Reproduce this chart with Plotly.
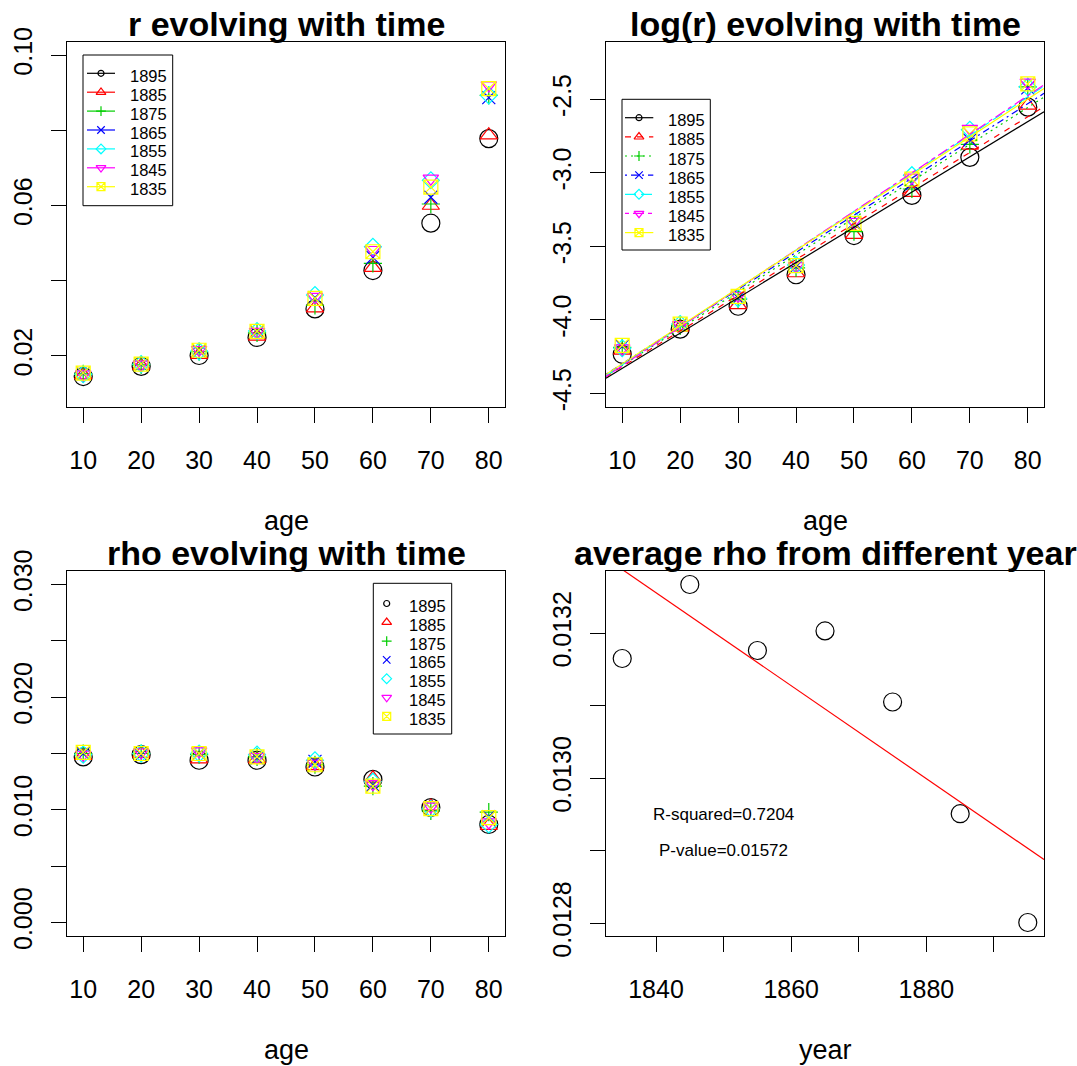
import numpy as np
import plotly.graph_objects as go

# ---------------- data ----------------
ages = [10, 20, 30, 40, 50, 60, 70, 80]
years = [1895, 1885, 1875, 1865, 1855, 1845, 1835]

r_1895 = [0.0145, 0.0172, 0.0201, 0.0249, 0.0325, 0.0427, 0.0553, 0.0778]
r_1885 = [0.0149, 0.0174, 0.0203, 0.0252, 0.0327, 0.0435, 0.0600, 0.0787]
r_1875 = [0.0152, 0.0176, 0.0211, 0.0261, 0.0334, 0.0446, 0.0604, 0.0893]
r_1865 = [0.0153, 0.0177, 0.0213, 0.0263, 0.0355, 0.0462, 0.0622, 0.0887]
r_1855 = [0.0151, 0.0178, 0.0212, 0.0266, 0.0362, 0.0490, 0.0667, 0.0893]
r_1845 = [0.0151, 0.0177, 0.0216, 0.0264, 0.0357, 0.0482, 0.0672, 0.0920]
r_1835 = [0.0154, 0.0178, 0.0215, 0.0265, 0.0353, 0.0477, 0.0649, 0.0911]

rho_1895 = [0.0147, 0.0149, 0.0144, 0.0144, 0.0138, 0.0127, 0.0102, 0.0087]
rho_1885 = [0.0148, 0.0150, 0.0145, 0.0145, 0.0139, 0.0128, 0.0103, 0.0086]
rho_1875 = [0.0150, 0.0150, 0.0149, 0.0147, 0.0140, 0.0121, 0.0099, 0.0098]
rho_1865 = [0.0150, 0.0149, 0.0150, 0.0146, 0.0143, 0.0122, 0.0101, 0.0094]
rho_1855 = [0.0149, 0.0150, 0.0150, 0.0149, 0.0144, 0.0125, 0.0101, 0.0087]
rho_1845 = [0.0149, 0.0151, 0.0152, 0.0147, 0.0141, 0.0123, 0.0103, 0.0089]
rho_1835 = [0.0151, 0.0150, 0.0150, 0.0147, 0.0140, 0.0121, 0.0101, 0.0093]

avg_years = [1835, 1845, 1855, 1865, 1875, 1885, 1895]
avg_rho = [0.013165, 0.013267, 0.013176, 0.013203, 0.013105, 0.012951, 0.012801]

r_series = [r_1895, r_1885, r_1875, r_1865, r_1855, r_1845, r_1835]
rho_series = [rho_1895, rho_1885, rho_1875, rho_1865, rho_1855, rho_1845, rho_1835]

r_ticks = [0.02, 0.04, 0.06, 0.08, 0.10]
r_ticktext = ["0.02", "", "0.06", "", "0.10"]
logr_ticks = [-4.5, -4.0, -3.5, -3.0, -2.5]
logr_ticktext = ["-4.5", "-4.0", "-3.5", "-3.0", "-2.5"]
rho_ticks = [0.0, 0.005, 0.010, 0.015, 0.020, 0.025, 0.030]
rho_ticktext = ["0.000", "", "0.010", "", "0.020", "", "0.030"]
year_ticks = [1840, 1850, 1860, 1870, 1880, 1890]
year_ticktext = ["1840", "", "1860", "", "1880", ""]
avg_ticks = [0.0128, 0.0129, 0.0130, 0.0131, 0.0132]
avg_ticktext = ["0.0128", "", "0.0130", "", "0.0132"]

# ---------------- styles ----------------
FONT = "Liberation Sans, Arial, Helvetica, sans-serif"
colors = ["#000000", "#FF0000", "#00CD00", "#0000FF", "#00FFFF", "#FF00FF", "#FFFF00"]
symbols = ["circle-open", "triangle-up-open", "cross-thin-open", "x-thin-open",
           "diamond-open", "triangle-down-open", "square-x-open"]
main_sizes = [18, 15, 13, 13, 13, 13.5, 14]
leg_sizes = [6, 8.5, 7, 7.5, 7.5, 8.5, 8]
dashes = ["solid", "6px,6px", "2px,4px", "2px,4px,7px,4px", "11px,5px", "4px,4px,11px,4px", "solid"]

W, H = 1077, 1066
# plot boxes in pixels (left, right, top, bottom)
boxes = {1: (67, 505, 41.6, 407), 2: (606, 1044, 41.6, 407),
         3: (67, 505, 571, 936), 4: (606, 1044, 571, 936)}


def dom(b):
    l, r, t, bt = b
    return [l / W, r / W], [1 - bt / H, 1 - t / H]


def rrange(vmin, vmax):
    d = (vmax - vmin) * 0.04
    return [vmin - d, vmax + d]


age_range = rrange(10, 80)

fig = go.Figure()

mk = lambda i, s: dict(symbol=symbols[i], size=s, color=colors[i],
                       line=dict(color=colors[i], width=1.2))

# panel 1: r
for i, yr in enumerate(years):
    fig.add_trace(go.Scatter(x=ages, y=r_series[i], mode="markers", marker=mk(i, main_sizes[i]),
                             xaxis="x", yaxis="y", showlegend=False, hoverinfo="skip"))

# panel 2: log(r) with fitted lines
for i, yr in enumerate(years):
    lr = np.log(np.array(r_series[i]))
    fig.add_trace(go.Scatter(x=ages, y=lr, mode="markers", marker=mk(i, main_sizes[i]),
                             xaxis="x2", yaxis="y2", showlegend=False, hoverinfo="skip"))
for i, yr in enumerate(years):
    lr = np.log(np.array(r_series[i]))
    b, a = np.polyfit(ages, lr, 1)
    xs = np.array(age_range)
    fig.add_trace(go.Scatter(x=xs, y=a + b * xs, mode="lines",
                             line=dict(color=colors[i], width=1.2, dash=dashes[i]),
                             xaxis="x2", yaxis="y2", showlegend=False, hoverinfo="skip"))

# panel 3: rho
for i, yr in enumerate(years):
    fig.add_trace(go.Scatter(x=ages, y=rho_series[i], mode="markers", marker=mk(i, main_sizes[i]),
                             xaxis="x3", yaxis="y3", showlegend=False, hoverinfo="skip"))

# panel 4: average rho vs year
yr_range = rrange(min(avg_years), max(avg_years))
avg_range = rrange(min(avg_rho), max(avg_rho))
fig.add_trace(go.Scatter(x=avg_years, y=avg_rho, mode="markers",
                         marker=dict(symbol="circle-open", size=18, color="black",
                                     line=dict(color="black", width=1.2)),
                         xaxis="x4", yaxis="y4", showlegend=False, hoverinfo="skip"))
sl, ic = np.polyfit(avg_years, avg_rho, 1)
xs = np.array(yr_range)
fig.add_trace(go.Scatter(x=xs, y=ic + sl * xs, mode="lines", line=dict(color="#FF0000", width=1.2),
                         xaxis="x4", yaxis="y4", showlegend=False, hoverinfo="skip"))

# ---------------- legends (drawn in pixel overlay axes) ----------------
shapes = []
annotations = []


def draw_legend(box, row0, step, line_x, sym_x, text_x, with_lines, dashed):
    x0, x1, y0, y1 = box
    shapes.append(dict(type="rect", xref="x5", yref="y5", x0=x0, x1=x1, y0=y0, y1=y1,
                       line=dict(color="black", width=1)))
    for i, yr in enumerate(years):
        yy = row0 + i * step
        if with_lines:
            fig.add_trace(go.Scatter(x=list(line_x), y=[yy, yy], mode="lines",
                                     line=dict(color=colors[i], width=1.2,
                                               dash=dashes[i] if dashed else "solid"),
                                     xaxis="x5", yaxis="y5", showlegend=False, hoverinfo="skip"))
        fig.add_trace(go.Scatter(x=[sym_x], y=[yy], mode="markers", marker=mk(i, leg_sizes[i]),
                                 xaxis="x5", yaxis="y5", showlegend=False, hoverinfo="skip"))
        annotations.append(dict(xref="x5", yref="y5", x=text_x, y=yy + 2.5, text=str(yr),
                                showarrow=False, xanchor="left", yanchor="middle",
                                font=dict(family=FONT, size=16.5, color="black")))


draw_legend((83, 172.7, 55, 205.7), 73.3, 18.9, (87, 115), 101, 128, True, False)
draw_legend((622, 710.3, 99.3, 250), 117.7, 19.15, (625, 653.3), 639, 666, True, True)
draw_legend((373.3, 451.7, 583.3, 734), 603.5, 18.8, None, 386.7, 406.5, False, False)

# titles and axis labels
titles = [("r evolving with time", 1), ("log(r) evolving with time", 2),
          ("rho evolving with time", 3), ("average rho from different year", 4)]
for txt, k in titles:
    l, r, t, b = boxes[k]
    annotations.append(dict(xref="x5", yref="y5", x=(l + r) / 2, y=t - 18, text="<b>%s</b>" % txt,
                            showarrow=False, xanchor="center", yanchor="middle",
                            font=dict(family=FONT, size=34, color="black")))
xlabels = [("age", 1), ("age", 2), ("age", 3), ("year", 4)]
for txt, k in xlabels:
    l, r, t, b = boxes[k]
    annotations.append(dict(xref="x5", yref="y5", x=(l + r) / 2, y=b + 113.5, text=txt,
                            showarrow=False, xanchor="center", yanchor="middle",
                            font=dict(family=FONT, size=27, color="black")))

annotations.append(dict(xref="x4", yref="y4", x=1850, y=0.01295, text="R-squared=0.7204",
                        showarrow=False, font=dict(family=FONT, size=17, color="black")))
annotations.append(dict(xref="x4", yref="y4", x=1850, y=0.01290, text="P-value=0.01572",
                        showarrow=False, font=dict(family=FONT, size=17, color="black")))

# ---------------- axes ----------------
base = dict(showline=True, mirror=True, linecolor="black", linewidth=1, ticks="outside",
            ticklen=15, tickwidth=1, tickcolor="black", showgrid=False, zeroline=False,
            tickfont=dict(family=FONT, size=25, color="black"), fixedrange=True,
            automargin=False)


def xax(k, rng, tv, tt):
    d = dom(boxes[k])[0]
    return dict(base, domain=d, range=rng, tickmode="array", tickvals=tv, ticktext=tt,
                anchor="y" if k == 1 else "y%d" % k, ticklabelstandoff=16)


def yax(k, rng, tv, tt):
    d = dom(boxes[k])[1]
    return dict(base, domain=d, range=rng, tickmode="array", tickvals=tv, ticktext=tt,
                anchor="x" if k == 1 else "x%d" % k, tickangle=-90, ticklabelstandoff=9)


age_text = [str(a) for a in ages]
layout = dict(
    width=W, height=H, margin=dict(l=0, r=0, t=0, b=0, pad=0, autoexpand=False),
    paper_bgcolor="white", plot_bgcolor="rgba(0,0,0,0)", showlegend=False,
    xaxis=xax(1, age_range, ages, age_text),
    yaxis=yax(1, [0.0064, 0.1036], r_ticks, r_ticktext),
    xaxis2=xax(2, age_range, ages, age_text),
    yaxis2=yax(2, [-4.592, -2.108], logr_ticks, logr_ticktext),
    xaxis3=xax(3, age_range, ages, age_text),
    yaxis3=yax(3, [-0.0012, 0.0312], rho_ticks, rho_ticktext),
    xaxis4=xax(4, yr_range, year_ticks, year_ticktext),
    yaxis4=yax(4, avg_range, avg_ticks, avg_ticktext),
    xaxis5=dict(domain=[0, 1], range=[0, W], visible=False, anchor="y5", fixedrange=True),
    yaxis5=dict(domain=[0, 1], range=[H, 0], visible=False, anchor="x5", fixedrange=True),
    shapes=shapes, annotations=annotations,
)
fig.update_layout(**layout)

fig.write_html("out.html", config={"displayModeBar": False},
               post_script="document.body.style.margin='0';")
